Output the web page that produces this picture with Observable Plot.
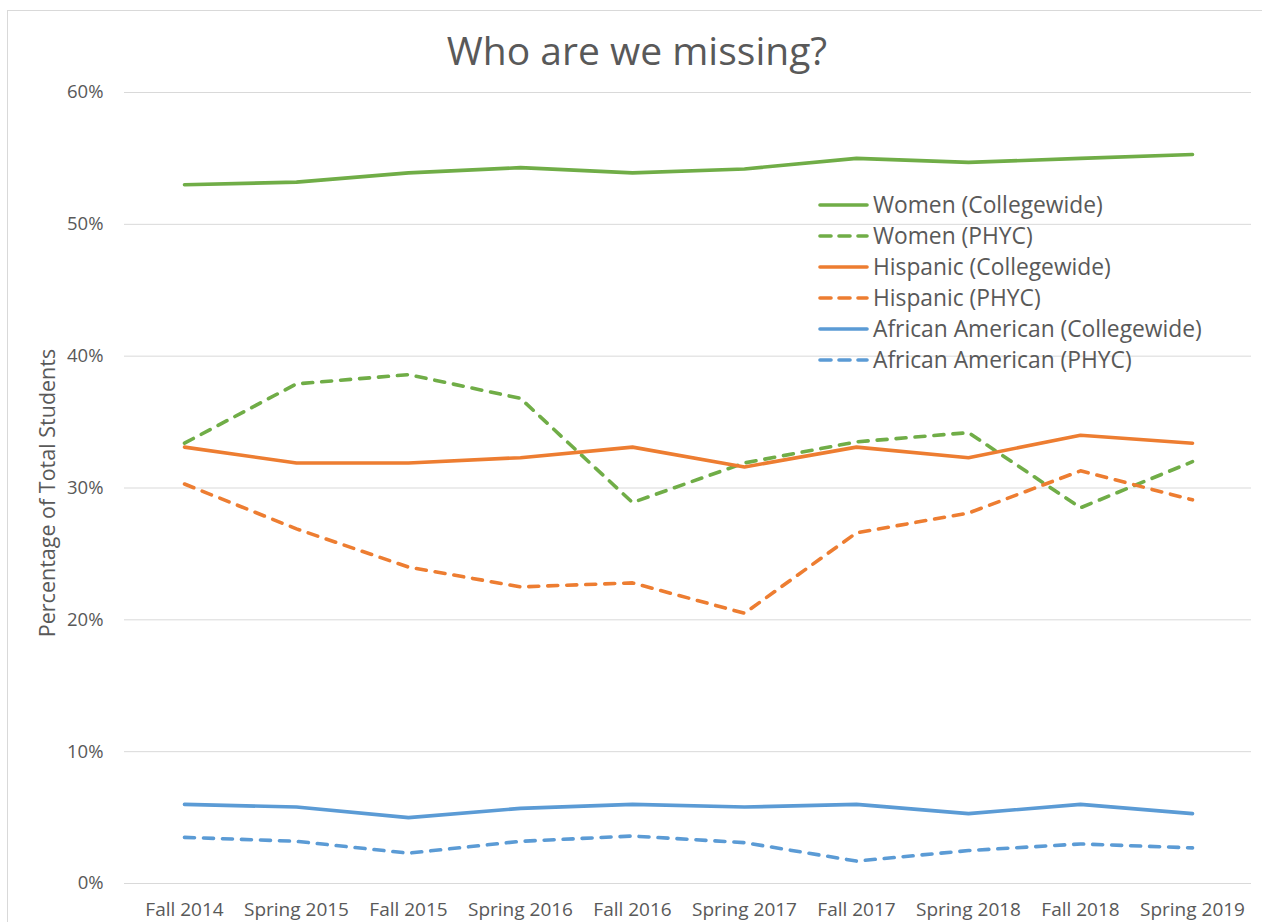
<!DOCTYPE html>
<html><head><meta charset="utf-8">
<script src="https://cdn.jsdelivr.net/npm/d3@7"></script>
<script src="https://cdn.jsdelivr.net/npm/@observablehq/plot@0.6"></script>
<style>
body{margin:0;background:#fff;}
#wrap{position:relative;width:1262px;height:922px;overflow:hidden;font-family:"Open Sans",sans-serif;color:#595959;}
#chart{position:absolute;left:0;top:0;}
#border{position:absolute;left:7px;top:10px;width:1300px;height:1000px;border:1px solid #d9d9d9;box-sizing:border-box;pointer-events:none;}
#title{position:absolute;left:0;top:22px;width:1262px;text-align:center;font-size:39px;line-height:56px;color:#595959;padding-left:12px;box-sizing:border-box;}
#ylabel{position:absolute;left:46px;top:493px;transform:translate(-50%,-50%) rotate(-90deg);white-space:nowrap;font-size:21.5px;color:#595959;}
#legend{position:absolute;left:818px;top:189px;font-size:22.8px;color:#595959;}
.row{height:31px;display:flex;align-items:center;}
.row svg{margin-right:3px;}
</style></head>
<body>
<div id="wrap">
<div id="chart"></div>
<div id="title">Who are we missing?</div>
<div id="ylabel">Percentage of Total Students</div>
<div id="legend"></div>
<div id="border"></div>
</div>
<script>
const terms = ["Fall 2014","Spring 2015","Fall 2015","Spring 2016","Fall 2016","Spring 2017","Fall 2017","Spring 2018","Fall 2018","Spring 2019"];
const womenCollegewide   = [53.0, 53.2, 53.9, 54.3, 53.9, 54.2, 55.0, 54.7, 55.0, 55.3];
const womenPHYC          = [33.4, 37.9, 38.6, 36.8, 28.9, 31.9, 33.5, 34.2, 28.5, 32.0];
const hispanicCollegewide= [33.1, 31.9, 31.9, 32.3, 33.1, 31.6, 33.1, 32.3, 34.0, 33.4];
const hispanicPHYC       = [30.3, 26.9, 24.0, 22.5, 22.8, 20.5, 26.6, 28.1, 31.3, 29.1];
const aaCollegewide      = [6.0, 5.8, 5.0, 5.7, 6.0, 5.8, 6.0, 5.3, 6.0, 5.3];
const aaPHYC             = [3.5, 3.2, 2.3, 3.2, 3.6, 3.1, 1.7, 2.5, 3.0, 2.7];
const yTicks = [0, 0.1, 0.2, 0.3, 0.4, 0.5, 0.6];

const series = [
  {name:"Women (Collegewide)", values: womenCollegewide, color:"#70AD47", dashed:false},
  {name:"Women (PHYC)", values: womenPHYC, color:"#70AD47", dashed:true},
  {name:"Hispanic (Collegewide)", values: hispanicCollegewide, color:"#ED7D31", dashed:false},
  {name:"Hispanic (PHYC)", values: hispanicPHYC, color:"#ED7D31", dashed:true},
  {name:"African American (Collegewide)", values: aaCollegewide, color:"#5B9BD5", dashed:false},
  {name:"African American (PHYC)", values: aaPHYC, color:"#5B9BD5", dashed:true}
];

const lineMarks = series.map(s => Plot.line(
  terms.map((t,i) => ({term:t, value:s.values[i]/100})),
  {x:"term", y:"value", stroke:s.color, strokeWidth:3.6,
   strokeDasharray: s.dashed ? "10,9" : null,
   strokeLinecap:"round", strokeLinejoin:"round"}));

const chart = Plot.plot({
  width:1262, height:922,
  marginTop:92, marginBottom:39, marginLeft:124, marginRight:11,
  style:{fontFamily:"'Open Sans', sans-serif", fontSize:"18px", color:"#595959", background:"transparent", overflow:"visible"},
  x:{type:"point", domain:terms, padding:0.5},
  y:{domain:[0,0.6]},
  marks:[
    Plot.ruleY(yTicks, {stroke:"#d9d9d9", strokeWidth:1}),
    ...lineMarks,
    Plot.axisY({ticks:yTicks, tickFormat:d3.format(".0%"), tickSize:0, tickPadding:21, fontSize:18.5, label:null}),
    Plot.axisX({tickSize:0, tickPadding:19, fontSize:19, label:null})
  ]
});
document.getElementById("chart").appendChild(chart);

const legend = document.getElementById("legend");
series.forEach(s => {
  const row = document.createElement("div");
  row.className = "row";
  const dash = s.dashed ? 'stroke-dasharray="11,8"' : '';
  row.innerHTML = `<svg width="52" height="10"><line x1="2" y1="5" x2="49" y2="5" stroke="${s.color}" stroke-width="3.6" stroke-linecap="round" ${dash}/></svg><span>${s.name}</span>`;
  legend.appendChild(row);
});
</script>
</body></html>
